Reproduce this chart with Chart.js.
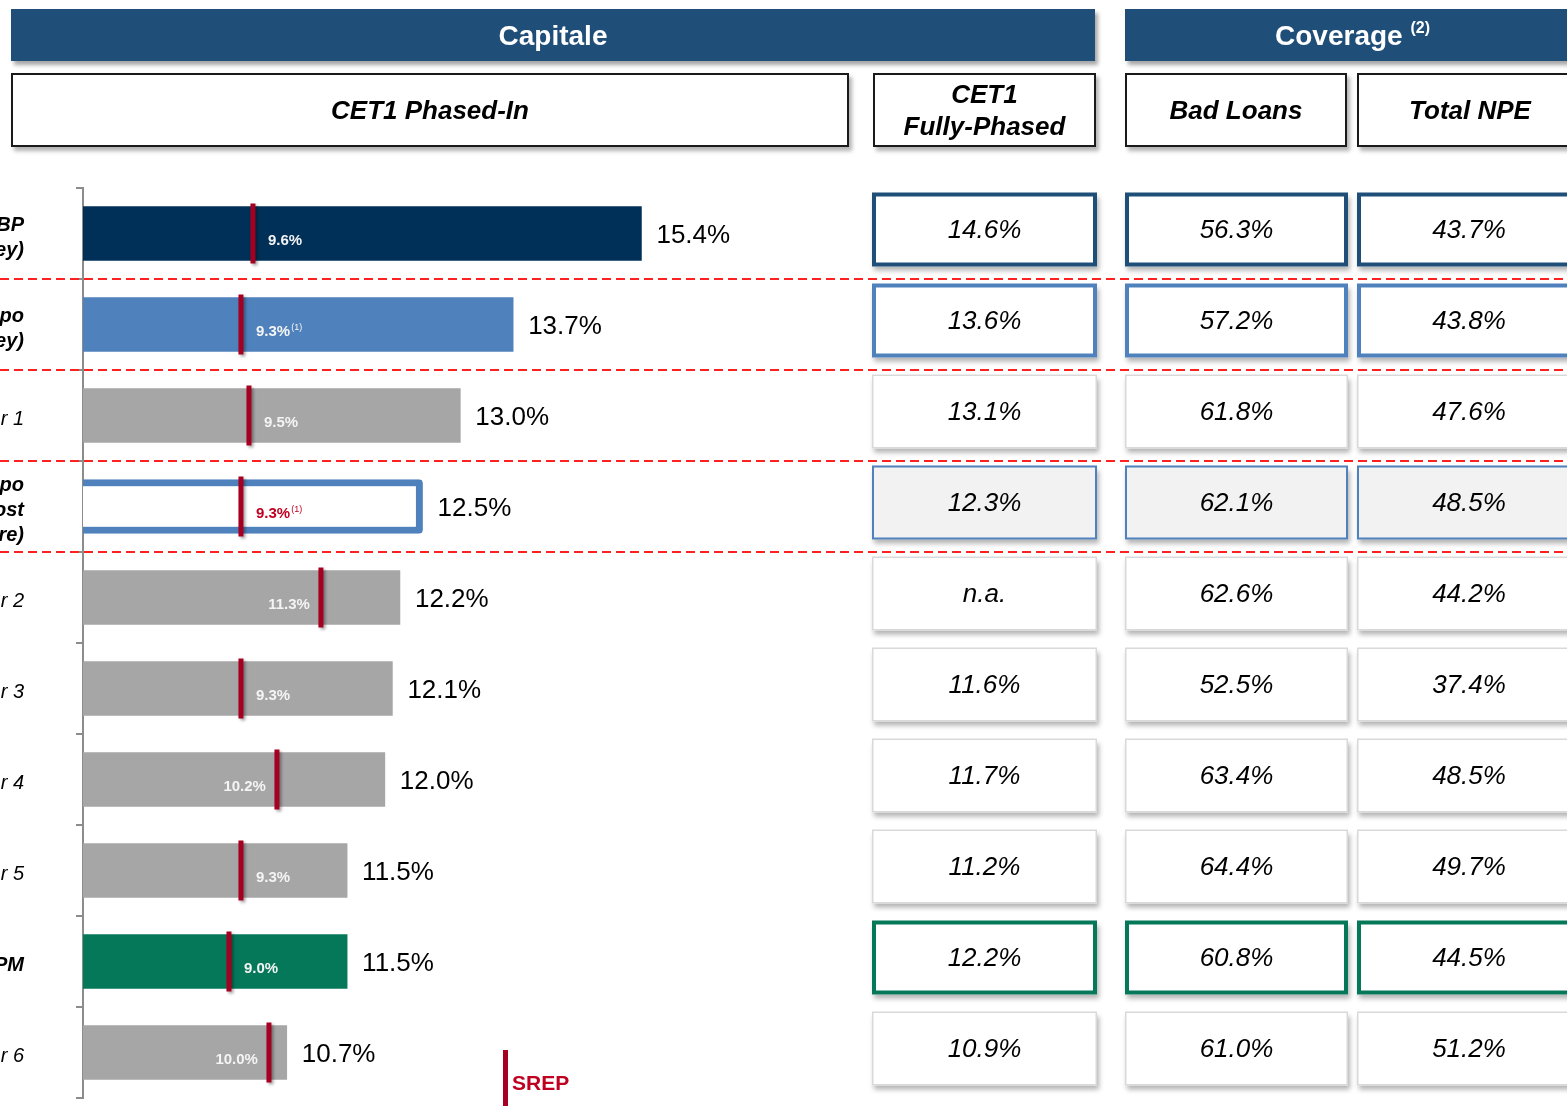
<!DOCTYPE html>
<html lang="it">
<head>
<meta charset="utf-8">
<title>Capitale e Coverage</title>
<script src="https://cdn.jsdelivr.net/npm/chart.js@4.4.1/dist/chart.umd.min.js"></script>
<style>
  html, body { margin: 0; padding: 0; background: #fff; overflow: hidden; }
  body { width: 1567px; height: 1106px; position: relative; font-family: 'Liberation Sans', Arial, sans-serif; }
  #chart { position: absolute; left: 0; top: 0; }
  .banner { position: absolute; top: 9px; height: 52px; background: #1F4E79; color: #fff; font-weight: bold; font-size: 28px; line-height: 54px; text-align: center; box-shadow: 3px 4px 4px rgba(0, 0, 0, 0.35); }
  .banner sup { font-size: 16px; vertical-align: 0; position: relative; top: -12px; }
  .subhead { position: absolute; top: 73px; height: 74px; box-sizing: border-box; border: 2px solid #1a1a1a; background: #fff; font-weight: bold; font-style: italic; font-size: 26px; line-height: 32px; display: flex; align-items: center; justify-content: center; text-align: center; box-shadow: 3px 4px 4px rgba(0, 0, 0, 0.3); }
  .legend-mark { position: absolute; left: 503px; top: 1050px; width: 5px; height: 56px; background: #A50021; }
  .legend-text { position: absolute; left: 512px; top: 1071px; font-size: 21px; font-weight: bold; color: #C00020; line-height: 24px; }
</style>
</head>
<body>
<canvas id="chart" width="1567" height="1106"></canvas>

<div class="banner" style="left: 11px; width: 1084px;">Capitale</div>
<div class="banner" style="left: 1125px; width: 455px;">Coverage <sup>(2)</sup></div>
<div class="subhead" style="left: 11px; width: 838px;">CET1 Phased-In</div>
<div class="subhead" style="left: 873px; width: 223px;">CET1<br>Fully-Phased</div>
<div class="subhead" style="left: 1125px; width: 222px;">Bad Loans</div>
<div class="subhead" style="left: 1357px; width: 226px;">Total NPE</div>
<div class="legend-mark"></div>
<div class="legend-text">SREP</div>

<script>
const categories = [['BP', 'ey)'], ['po', 'ey)'], 'r 1', ['po', 'ost', 're)'], 'r 2', 'r 3', 'r 4', 'r 5', 'PM', 'r 6'];
const cet1PhasedIn = [15.4, 13.7, 13.0, 12.5, 12.2, 12.1, 12.0, 11.5, 11.5, 10.7];
const srepRequirement = [9.6, 9.3, 9.5, 9.3, 11.3, 9.3, 10.2, 9.3, 9.0, 10.0];
const srepNotes = ['', '(1)', '', '(1)', '', '', '', '', '', ''];
const cet1FullyPhased = [14.6, 13.6, 13.1, 12.3, null, 11.6, 11.7, 11.2, 12.2, 10.9];
const badLoansCoverage = [56.3, 57.2, 61.8, 62.1, 62.6, 52.5, 63.4, 64.4, 60.8, 61.0];
const totalNpeCoverage = [43.7, 43.8, 47.6, 48.5, 44.2, 37.4, 48.5, 49.7, 44.5, 51.2];

const FONT = "'Liberation Sans', Arial, sans-serif";
const GREY = '#A6A6A6';
const NAVY = '#1F4E79';
const BLUE = '#4F81BD';
const GREEN = '#06785A';
const RED = '#A50021';

// per-row styling
const barColors = ['#003057', BLUE, GREY, '#FFFFFF', GREY, GREY, GREY, GREY, GREEN, GREY];
const barBorderColors = barColors.map((c, i) => (i === 3 ? BLUE : c));
const barBorderWidths = barColors.map((c, i) => (i === 3 ? 7 : 0));
const boldLabels = [true, true, false, true, false, false, false, false, true, false];
const plainCell = { border: '#D9D9D9', width: 1.5, fill: '#FFFFFF' };
const cellStyles = [
  { border: NAVY, width: 4, fill: '#FFFFFF' },
  { border: BLUE, width: 4, fill: '#FFFFFF' },
  plainCell,
  { border: BLUE, width: 2, fill: '#F2F2F2' },
  plainCell,
  plainCell,
  plainCell,
  plainCell,
  { border: GREEN, width: 4, fill: '#FFFFFF' },
  plainCell,
];
const tableColumns = [
  { values: cet1FullyPhased, left: 872, right: 1097 },
  { values: badLoansCoverage, left: 1125, right: 1348 },
  { values: totalNpeCoverage, left: 1357, right: 1581 },
];
const dividerRows = 4;

const fmt = (v) => (v == null ? 'n.a.' : v.toFixed(1) + '%');

const separators = {
  id: 'separators',
  beforeDatasetsDraw(chart) {
    const { ctx, scales: { y } } = chart;
    ctx.save();
    ctx.strokeStyle = '#FF2020';
    ctx.lineWidth = 2;
    ctx.setLineDash([9, 5]);
    for (let i = 0; i < dividerRows; i++) {
      const yy = Math.round((y.getPixelForValue(i) + y.getPixelForValue(i + 1)) / 2);
      ctx.beginPath();
      ctx.moveTo(0, yy);
      ctx.lineTo(chart.width, yy);
      ctx.stroke();
    }
    ctx.restore();
  },
};

const markerShadow = {
  id: 'markerShadow',
  beforeDatasetDraw(chart, args) {
    if (args.index !== 1) return;
    const { ctx } = chart;
    ctx.save();
    ctx.shadowColor = 'rgba(0, 0, 0, 0.35)';
    ctx.shadowBlur = 3;
    ctx.shadowOffsetX = 2;
    ctx.shadowOffsetY = 2;
  },
  afterDatasetDraw(chart, args) {
    if (args.index === 1) chart.ctx.restore();
  },
};

const valueLabels = {
  id: 'valueLabels',
  afterDatasetsDraw(chart) {
    const { ctx } = chart;
    const bars = chart.getDatasetMeta(0).data;
    const marks = chart.getDatasetMeta(1).data;
    ctx.save();
    ctx.textBaseline = 'middle';
    ctx.textAlign = 'left';
    bars.forEach((bar, i) => {
      ctx.font = `26px ${FONT}`;
      ctx.fillStyle = '#000';
      ctx.fillText(fmt(cet1PhasedIn[i]), bar.x + 15, bar.y + 2);

      const txt = fmt(srepRequirement[i]);
      ctx.font = `bold 15px ${FONT}`;
      const w = ctx.measureText(txt).width;
      const tx = srepRequirement[i] >= 10 ? marks[i].x - 11 - w : marks[i].x + 15;
      ctx.fillStyle = barColors[i] === '#FFFFFF' ? '#C00020' : '#F4F4F4';
      ctx.fillText(txt, tx, bar.y + 7);
      if (srepNotes[i]) {
        ctx.font = `9px ${FONT}`;
        ctx.fillText(srepNotes[i], tx + w + 1, bar.y + 3);
      }
    });
    ctx.restore();
  },
};

const coverageTable = {
  id: 'coverageTable',
  afterDraw(chart) {
    const { ctx, scales: { y } } = chart;
    const h = 74;
    categories.forEach((_, i) => {
      const cy = y.getPixelForValue(i) - 4;
      const top = cy - h / 2;
      const st = cellStyles[i];
      tableColumns.forEach((col) => {
        const w = col.right - col.left;
        ctx.save();
        ctx.shadowColor = 'rgba(0, 0, 0, 0.3)';
        ctx.shadowBlur = 5;
        ctx.shadowOffsetX = 2;
        ctx.shadowOffsetY = 4;
        ctx.fillStyle = st.fill;
        ctx.fillRect(col.left, top, w, h);
        ctx.restore();

        ctx.save();
        ctx.lineWidth = st.width;
        ctx.strokeStyle = st.border;
        ctx.strokeRect(col.left + st.width / 2, top + st.width / 2, w - st.width, h - st.width);
        ctx.fillStyle = '#000';
        ctx.font = `italic 26px ${FONT}`;
        ctx.textAlign = 'center';
        ctx.textBaseline = 'middle';
        ctx.fillText(fmt(col.values[i]), col.left + w / 2, cy + 1);
        ctx.restore();
      });
    });
  },
};

new Chart(document.getElementById('chart'), {
  type: 'bar',
  data: {
    labels: categories,
    datasets: [
      {
        label: 'CET1 Phased-In',
        data: cet1PhasedIn,
        xAxisID: 'x',
        order: 1,
        backgroundColor: barColors,
        borderColor: barBorderColors,
        borderWidth: barBorderWidths,
        borderRadius: barBorderWidths.map((b) => (b ? 4 : 0)),
        borderSkipped: false,
        barThickness: 54,
      },
      {
        type: 'line',
        label: 'SREP',
        data: srepRequirement,
        xAxisID: 'xs',
        order: 0,
        showLine: false,
        pointStyle: 'line',
        pointRotation: 90,
        pointRadius: 30,
        pointHoverRadius: 30,
        pointBorderWidth: 5,
        pointHoverBorderWidth: 5,
        pointBorderColor: RED,
        pointBackgroundColor: RED,
      },
    ],
  },
  options: {
    indexAxis: 'y',
    responsive: false,
    animation: false,
    devicePixelRatio: 1,
    events: [],
    layout: {
      autoPadding: false,
      padding: { top: 188, bottom: 8, left: 0, right: 709 },
    },
    plugins: {
      legend: { display: false },
      tooltip: { enabled: false },
    },
    scales: {
      x: { type: 'linear', min: 8, max: 18.27, display: false },
      xs: { type: 'linear', axis: 'x', min: 5.35, max: 24.73, display: false },
      y: {
        type: 'category',
        offset: true,
        grid: {
          offset: true,
          drawOnChartArea: false,
          drawTicks: true,
          tickLength: 7,
          color: '#8C8C8C',
          lineWidth: 2,
        },
        border: { color: '#8C8C8C', width: 2 },
        ticks: {
          autoSkip: false,
          padding: 52,
          labelOffset: 4,
          color: '#000',
          font: (ctx) => ({
            family: FONT,
            size: 20,
            style: 'italic',
            weight: boldLabels[ctx.index] ? 'bold' : 'normal',
            lineHeight: 1.25,
          }),
        },
        afterFit: (scale) => {
          scale.width = 83;
          scale.paddingTop = 0;
          scale.paddingBottom = 0;
        },
      },
    },
  },
  plugins: [separators, markerShadow, valueLabels, coverageTable],
});
</script>
</body>
</html>
